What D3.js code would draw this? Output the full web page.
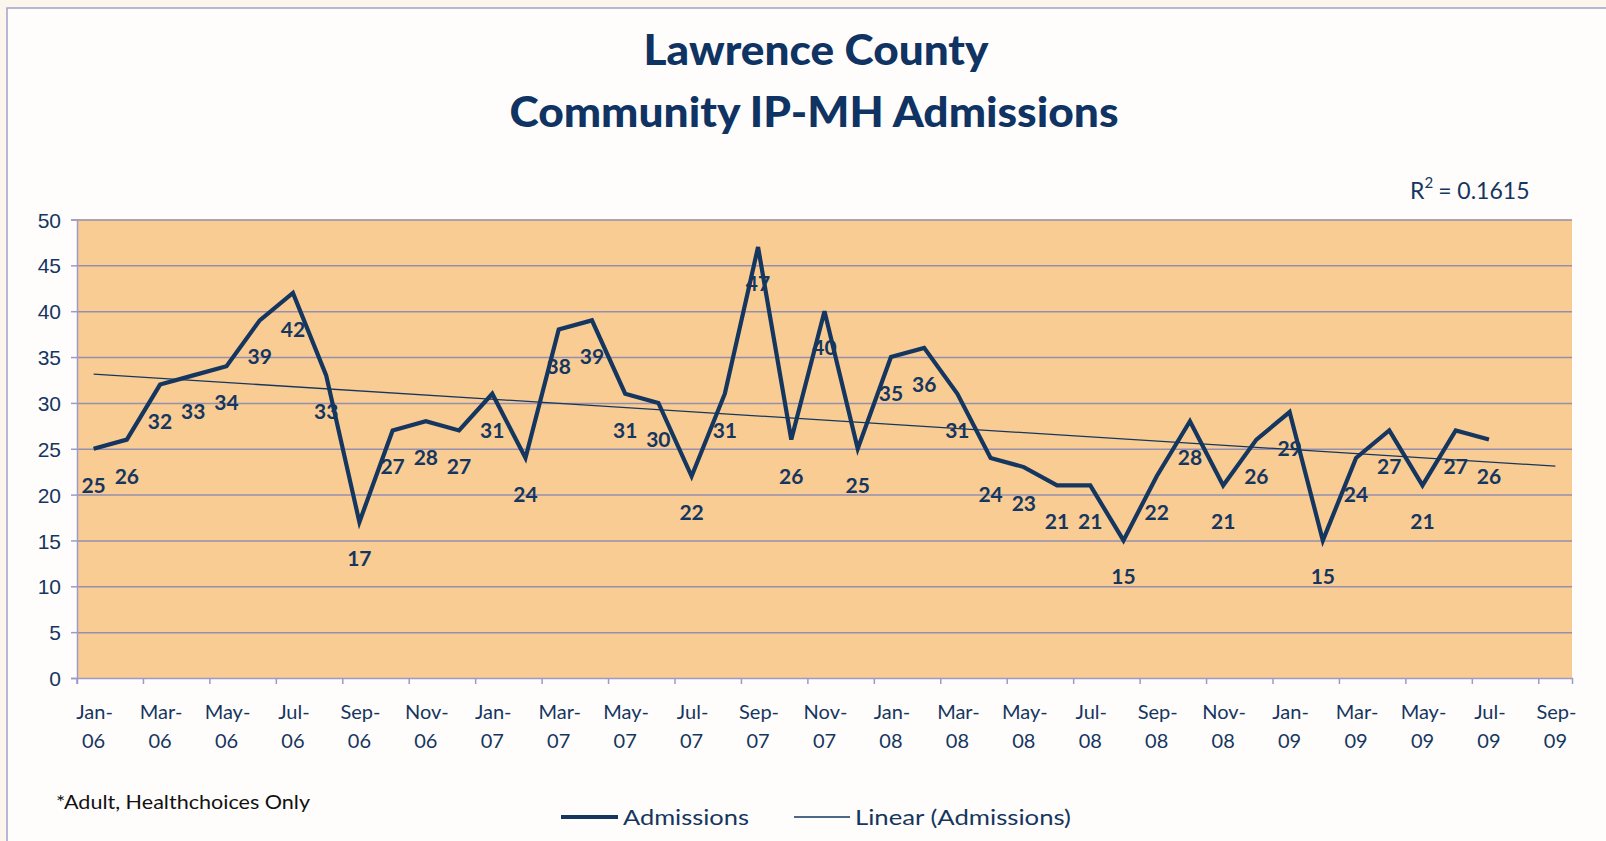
<!DOCTYPE html>
<html>
<head>
<meta charset="utf-8">
<script src="https://cdn.jsdelivr.net/npm/d3@7/dist/d3.min.js"></script>
<style>
  body { margin: 0; background: #fcf5eb; }
  svg { display: block; font-family: Lato, "Open Sans", sans-serif; }
</style>
</head>
<body>
<svg id="chart" width="1606" height="841"></svg>
<script>
// chart data
const months = [
  "Jan-06","Feb-06","Mar-06","Apr-06","May-06","Jun-06","Jul-06","Aug-06","Sep-06","Oct-06","Nov-06","Dec-06",
  "Jan-07","Feb-07","Mar-07","Apr-07","May-07","Jun-07","Jul-07","Aug-07","Sep-07","Oct-07","Nov-07","Dec-07",
  "Jan-08","Feb-08","Mar-08","Apr-08","May-08","Jun-08","Jul-08","Aug-08","Sep-08","Oct-08","Nov-08","Dec-08",
  "Jan-09","Feb-09","Mar-09","Apr-09","May-09","Jun-09","Jul-09"
];
const admissions = [
  25, 26, 32, 33, 34, 39, 42, 33, 17, 27, 28, 27,
  31, 24, 38, 39, 31, 30, 22, 31, 47, 26, 40, 25,
  35, 36, 31, 24, 23, 21, 21, 15, 22, 28, 21, 26,
  29, 15, 24, 27, 21, 27, 26
];
const forecastMonths = ["Aug-09", "Sep-09"];
const yTicks = [0, 5, 10, 15, 20, 25, 30, 35, 40, 45, 50];
const titleLines = ["Lawrence County", "Community IP-MH Admissions"];
const rSquaredValue = "0.1615";
const legendNames = ["Admissions", "Linear (Admissions)"];
const footnote = "*Adult, Healthchoices Only";

const navy = "#15365f";
const svg = d3.select("#chart");

// chart frame
svg.append("rect")
  .attr("x", 7).attr("y", 8)
  .attr("width", 1640).attr("height", 880)
  .attr("fill", "#fffdfb")
  .attr("stroke", "#a2a0cc").attr("stroke-width", 1.5);

const plot = { left: 77, right: 1572, top: 219.5, bottom: 678 };

const allMonths = months.concat(forecastMonths);
const x = d3.scaleBand().domain(allMonths).range([plot.left, plot.right]).padding(0);
const y = d3.scaleLinear().domain([0, 50]).range([plot.bottom, plot.top]);
const cx = m => x(m) + x.bandwidth() / 2;

// plot area
svg.append("rect")
  .attr("x", plot.left).attr("y", plot.top)
  .attr("width", plot.right - plot.left).attr("height", plot.bottom - plot.top)
  .attr("fill", "#f9cc94");

// gridlines
svg.append("g")
  .attr("transform", `translate(${plot.left},0)`)
  .call(d3.axisLeft(y).tickValues(yTicks.slice(1)).tickSize(-(plot.right - plot.left)).tickFormat(""))
  .call(g => g.select(".domain").remove())
  .call(g => g.selectAll("line").attr("stroke", "#958fac").attr("stroke-width", 1.5));

// y axis
svg.append("g")
  .attr("transform", `translate(${plot.left},0)`)
  .call(d3.axisLeft(y).tickValues(yTicks).tickSize(6).tickPadding(10))
  .call(g => g.select(".domain").attr("stroke", "#9d9ac8").attr("stroke-width", 1.5))
  .call(g => g.selectAll("line").attr("stroke", "#9d9ac8").attr("stroke-width", 1.5))
  .call(g => g.selectAll("text").attr("fill", navy).attr("font-size", 21).attr("dy", "0.36em"));

// x axis: ticks on month boundaries, labels in the middle
const tickMonths = allMonths.filter((m, i) => i % 2 === 0);
svg.append("g")
  .attr("transform", `translate(0,${plot.bottom})`)
  .call(d3.axisBottom(x).tickValues(tickMonths).tickSize(6).tickFormat(""))
  .call(g => g.select(".domain").attr("stroke", "#9d9ac8").attr("stroke-width", 1.5))
  .call(g => g.selectAll(".tick line")
    .attr("x1", -x.bandwidth() / 2).attr("x2", -x.bandwidth() / 2)
    .attr("stroke", "#9d9ac8").attr("stroke-width", 1.5));

const xl = svg.append("g").attr("fill", navy).attr("font-size", 20).attr("text-anchor", "middle");
tickMonths.forEach(m => {
  const parts = m.split("-");
  xl.append("text").attr("x", cx(m) + 1).attr("y", 719).text(parts[0] + "-");
  xl.append("text").attr("x", cx(m)).attr("y", 748).text(parts[1]);
});

// linear trend from least squares, carried forward two months
const xs = d3.range(admissions.length);
const mx = d3.mean(xs), my = d3.mean(admissions);
const slope = d3.sum(xs, i => (i - mx) * (admissions[i] - my)) / d3.sum(xs, i => (i - mx) * (i - mx));
const intercept = my - slope * mx;

// data labels (drawn first, the line passes over them like the original)
svg.append("g")
  .attr("fill", navy).attr("font-size", 21).attr("font-weight", "bold").attr("text-anchor", "middle")
  .selectAll("text")
  .data(admissions)
  .join("text")
  .attr("x", (d, i) => cx(months[i]))
  .attr("y", d => y(d) + 44)
  .text(d => d);

const line = d3.line()
  .x((d, i) => cx(months[i]))
  .y(d => y(d));

svg.append("path")
  .datum(admissions)
  .attr("d", line)
  .attr("fill", "none")
  .attr("stroke", navy)
  .attr("stroke-width", 4.2)
  .attr("stroke-linejoin", "miter");

const trendPts = [0, allMonths.length - 1];
svg.append("path")
  .datum(trendPts)
  .attr("d", d3.line().x(i => cx(allMonths[i])).y(i => y(intercept + slope * i)))
  .attr("fill", "none")
  .attr("stroke", navy)
  .attr("stroke-width", 1.3);

// title
svg.append("text")
  .attr("x", 816).attr("y", 65).attr("text-anchor", "middle")
  .attr("font-size", 42).attr("font-weight", 900).attr("fill", "#0f3363")
  .attr("textLength", 345).attr("lengthAdjust", "spacingAndGlyphs")
  .text(titleLines[0]);
svg.append("text")
  .attr("x", 814).attr("y", 127).attr("text-anchor", "middle")
  .attr("font-size", 42).attr("font-weight", 900).attr("fill", "#0f3363")
  .attr("textLength", 609).attr("lengthAdjust", "spacingAndGlyphs")
  .text(titleLines[1]);

// R squared
const r2 = svg.append("text")
  .attr("x", 1410).attr("y", 199).attr("font-size", 23).attr("fill", navy);
r2.append("tspan").text("R");
r2.append("tspan").attr("font-size", 15).attr("dy", -11).text("2");
r2.append("tspan").attr("dy", 11).attr("dx", 5).text("= " + rSquaredValue);

// legend
const lg = svg.append("g").attr("fill", navy).attr("font-size", 22);
lg.append("line").attr("x1", 561).attr("x2", 618).attr("y1", 817).attr("y2", 817)
  .attr("stroke", navy).attr("stroke-width", 4);
lg.append("text").attr("x", 623).attr("y", 825)
  .attr("textLength", 126).attr("lengthAdjust", "spacingAndGlyphs").text(legendNames[0]);
lg.append("line").attr("x1", 794).attr("x2", 850).attr("y1", 817).attr("y2", 817)
  .attr("stroke", navy).attr("stroke-width", 1.3);
lg.append("text").attr("x", 855).attr("y", 825)
  .attr("textLength", 216).attr("lengthAdjust", "spacingAndGlyphs").text(legendNames[1]);

// footnote
svg.append("text")
  .attr("x", 56).attr("y", 809).attr("font-size", 19).attr("fill", "#111")
  .attr("textLength", 254).attr("lengthAdjust", "spacingAndGlyphs")
  .text(footnote);
</script>
</body>
</html>
